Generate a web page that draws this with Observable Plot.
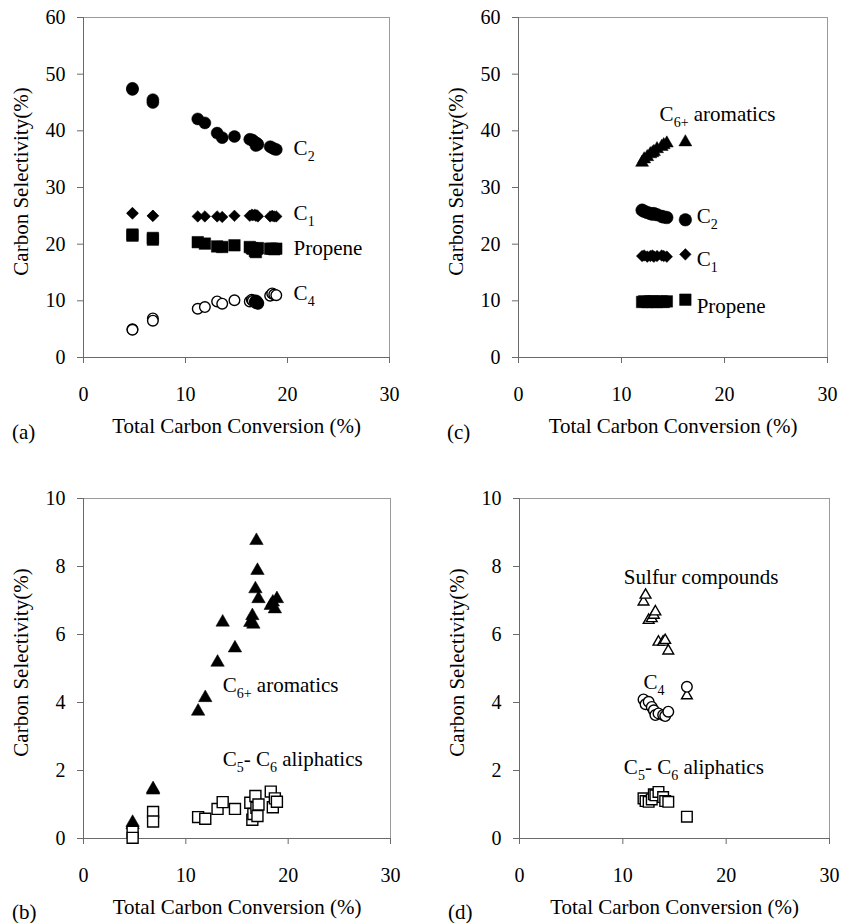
<!DOCTYPE html>
<html><head><meta charset="utf-8">
<script src="https://cdn.jsdelivr.net/npm/d3@7"></script>
<script src="https://cdn.jsdelivr.net/npm/@observablehq/plot@0.6"></script>
<style>
body{margin:0;background:#fff;font-family:'Liberation Serif','Times New Roman','DejaVu Serif',serif;}
#wrap{position:relative;width:842px;height:923px;overflow:hidden;background:#fff;}
.panel{position:absolute;}
.letter{position:absolute;font-family:'Liberation Serif','Times New Roman','DejaVu Serif',serif;font-size:21px;line-height:24px;color:#000;}
svg text, svg tspan{font-family:'Liberation Serif','Times New Roman','DejaVu Serif',serif !important;}
</style></head><body>
<div id="wrap">
<div class="letter" style="left:12px;top:420px">(a)</div>
<div class="letter" style="left:447px;top:420px">(c)</div>
<div class="letter" style="left:12px;top:900px">(b)</div>
<div class="letter" style="left:448px;top:900px">(d)</div>
</div>
<script>
// ---------- data ----------
const xTicks = [0, 10, 20, 30];
const yTicksTop = [0, 10, 20, 30, 40, 50, 60];
const yTicksBottom = [0, 2, 4, 6, 8, 10];

// panels (a) and (b): total carbon conversion (%) of each run
const convAB = [4.8, 4.8, 6.8, 6.8, 11.2, 11.9, 13.1, 13.6, 14.8, 16.3, 16.5, 16.6, 16.8, 16.9, 17.0, 17.1, 18.3, 18.5, 18.7, 18.9];
const c2A = [47.5, 47.3, 45.5, 45.0, 42.1, 41.4, 39.6, 38.8, 39.0, 38.5, 38.4, 38.3, 38.0, 37.4, 37.8, 37.6, 37.2, 37.0, 36.8, 36.7];
const c1A = [25.5, 25.4, 25.0, 25.0, 24.9, 24.9, 24.9, 24.8, 25.0, 25.0, 25.2, 25.1, 25.2, 25.0, 25.1, 24.9, 24.9, 25.0, 24.9, 24.9];
const propeneA = [21.7, 21.5, 21.1, 20.8, 20.35, 20.1, 19.6, 19.5, 19.8, 19.5, 19.3, 19.2, 18.8, 18.6, 19.2, 19.3, 19.2, 19.2, 19.1, 19.2];
const c4A = [5.0, 4.9, 6.9, 6.5, 8.6, 8.9, 9.9, 9.5, 10.1, 9.9, 10.2, 10.0, 9.8, 9.6, 9.9, 9.5, 10.9, 11.3, 11.1, 11.0];
const c4DarkX = [16.9, 17.1];
const c4DarkY = [10.0, 9.6];
const aromB = [0.47, 0.40, 1.46, 1.42, 3.74, 4.14, 5.18, 6.36, 5.60, 6.35, 6.55, 6.30, 7.34, 8.76, 7.88, 7.05, 6.85, 6.95, 6.75, 7.05];
const aliphB = [0.20, 0.02, 0.78, 0.50, 0.63, 0.58, 0.87, 1.07, 0.87, 1.05, 0.55, 0.72, 1.25, 0.90, 0.66, 1.00, 1.38, 0.92, 1.18, 1.08];

// panels (c) and (d)
const convCD = [12.0, 12.2, 12.5, 12.8, 13.0, 13.15, 13.45, 13.9, 14.1, 14.4, 16.2];
const aromC = [34.4, 35.0, 35.4, 35.9, 36.1, 36.3, 36.8, 37.2, 37.5, 37.8, 38.0];
const c2C = [26.0, 25.8, 25.6, 25.4, 25.3, 25.4, 25.2, 24.9, 24.8, 24.7, 24.3];
const c1C = [17.9, 18.0, 17.8, 17.9, 18.0, 17.8, 17.9, 18.0, 17.9, 17.8, 18.2];
const propeneC = [9.8, 9.9, 9.8, 9.9, 9.8, 9.9, 9.8, 9.9, 9.8, 9.9, 10.2];
const sulfurD = [6.96, 7.16, 6.42, 6.47, 6.57, 6.67, 5.78, 5.78, 5.83, 5.52, 4.20];
const c4D = [4.09, 3.95, 4.02, 3.87, 3.77, 3.63, 3.68, 3.63, 3.60, 3.73, 4.46];
const aliphD = [1.18, 1.10, 1.08, 1.15, 1.30, 1.27, 1.37, 1.22, 1.10, 1.08, 0.64];

const xTitle = "Total Carbon Conversion (%)";
const yTitle = "Carbon Selectivity(%)";

// ---------- helpers ----------
const SERIF = "'Liberation Serif', 'Times New Roman', 'DejaVu Serif', serif";
const pts = (xs, ys) => xs.map((x, i) => ({x, y: ys[i]}));

function applySubscripts(svg) {
  svg.querySelectorAll("text").forEach(t => {
    t.style.fontFamily = SERIF;
    const s = t.textContent;
    if (!s.includes("_") || t.children.length) return;
    const parts = s.split(/_([0-9+]+)/);
    t.textContent = "";
    parts.forEach((p, i) => {
      if (!p) return;
      const ts = document.createElementNS("http://www.w3.org/2000/svg", "tspan");
      ts.textContent = p;
      if (i % 2 === 1) { ts.setAttribute("font-size", "14"); ts.setAttribute("dy", "6"); }
      else if (i > 0) { ts.setAttribute("dy", "-6"); }
      t.appendChild(ts);
    });
  });
}

function panel({left, top, width, height, m, yDomain, yTicks, marks}) {
  const svg = Plot.plot({
    width, height,
    marginTop: m[0], marginRight: m[1], marginBottom: m[2], marginLeft: m[3],
    style: {fontFamily: SERIF, fontSize: "20px"},
    x: {domain: [0, 30]},
    y: {domain: yDomain},
    marks: [
      Plot.frame({stroke: "#9a9a9a"}),
      Plot.ruleX([0], {stroke: "#6a6a6a"}),
      Plot.ruleY([0], {stroke: "#6a6a6a"}),
      Plot.axisX(xTicks, {tickSize: 6, tickPadding: 23, stroke: "#6a6a6a", fill: "black", fontSize: 20, label: null}),
      Plot.axisY(yTicks, {tickSize: 6, tickPadding: 12, stroke: "#6a6a6a", fill: "black", fontSize: 20, label: null}),
      ...marks,
      Plot.text([yTitle], {frameAnchor: "left", textAnchor: "middle", rotate: -90, dx: -62, dy: -6, fontSize: 21, fill: "black"}),
      Plot.text([xTitle], {frameAnchor: "bottom", textAnchor: "middle", dy: 75, fontSize: 21, fill: "black"})
    ]
  });
  applySubscripts(svg);
  const div = document.createElement("div");
  div.className = "panel";
  div.style.left = left + "px";
  div.style.top = top + "px";
  div.appendChild(svg);
  document.getElementById("wrap").appendChild(div);
}

const filledDots = (data, symbol, r) => Plot.dot(data, {x: "x", y: "y", symbol, r, fill: "black", stroke: "black", strokeWidth: 0.5});
const openDots = (data, symbol, r) => Plot.dot(data, {x: "x", y: "y", symbol, r, fill: "white", stroke: "black", strokeWidth: 1.4});
const seriesLabel = (t, x, y) => Plot.text([{t, x, y}], {x: "x", y: "y", text: "t", textAnchor: "start", fontSize: 21, fill: "black"});

// (a)
panel({left: 0, top: 0, width: 421, height: 460, m: [17, 32, 103, 83], yDomain: [0, 60], yTicks: yTicksTop,
  marks: [
    filledDots(pts(convAB, c2A), "circle", 6),
    filledDots(pts(convAB, c1A), "diamond2", 5.2),
    filledDots(pts(convAB, propeneA), "square", 6.5),
    openDots(pts(convAB, c4A), "circle", 5.3),
    filledDots(pts(c4DarkX, c4DarkY), "circle", 6),
    seriesLabel("C_2", 20.6, 36.9),
    seriesLabel("C_1", 20.6, 25.4),
    seriesLabel("Propene", 20.6, 19.2),
    seriesLabel("C_4", 20.6, 11.3)
  ]});

// (c)
panel({left: 421, top: 0, width: 421, height: 460, m: [17, 15, 103, 97], yDomain: [0, 60], yTicks: yTicksTop,
  marks: [
    filledDots(pts(convCD, aromC), "triangle", 4.8),
    filledDots(pts(convCD, c2C), "circle", 6.3),
    filledDots(pts(convCD, c1C), "diamond2", 5.2),
    filledDots(pts(convCD, propeneC), "square", 6.5),
    seriesLabel("C_6+ aromatics", 13.7, 42.9),
    seriesLabel("C_2", 17.3, 24.9),
    seriesLabel("C_1", 17.3, 17.3),
    seriesLabel("Propene", 17.3, 9.0)
  ]});

// (b)
panel({left: 0, top: 460, width: 421, height: 463, m: [38, 31, 85, 83], yDomain: [0, 10], yTicks: yTicksBottom,
  marks: [
    filledDots(pts(convAB, aromB), "triangle", 5),
    openDots(pts(convAB, aliphB), "square", 6.2),
    seriesLabel("C_6+ aromatics", 13.6, 4.5),
    seriesLabel("C_5- C_6 aliphatics", 13.6, 2.34)
  ]});

// (d)
panel({left: 421, top: 460, width: 421, height: 463, m: [38, 13, 85, 98], yDomain: [0, 10], yTicks: yTicksBottom,
  marks: [
    openDots(pts(convCD, sulfurD), "triangle", 4),
    openDots(pts(convCD, c4D), "circle", 5.3),
    openDots(pts(convCD, aliphD), "square", 6),
    seriesLabel("Sulfur compounds", 10.1, 7.69),
    seriesLabel("C_4", 12.0, 4.6),
    seriesLabel("C_5- C_6 aliphatics", 10.1, 2.1)
  ]});
</script>
</body></html>
